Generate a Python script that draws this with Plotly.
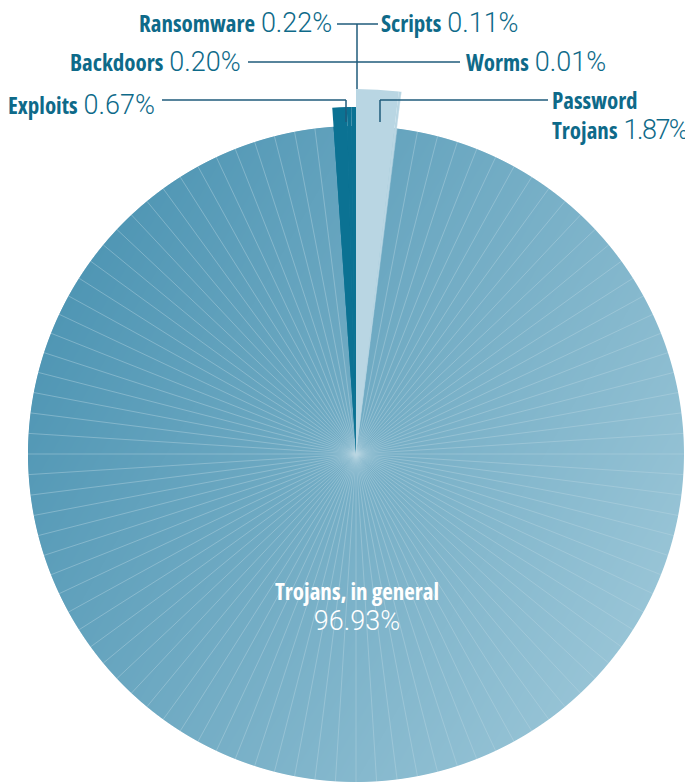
import base64
import struct
import zlib

import numpy as np
import plotly.graph_objects as go

# ---- data (clockwise from 12 o'clock) ----
categories = ["Password Trojans", "Scripts", "Worms", "Trojans, in general",
              "Exploits", "Backdoors", "Ransomware"]
shares = [1.87, 0.11, 0.01, 96.93, 0.67, 0.20, 0.22]

# ---- style ----
MAIN = "#74adc5"
slice_colors = ["#b9d6e3", "#b9d6e3", "#b9d6e3", MAIN,
                "#0b7293", "#0b7293", "#0b7293"]
slice_radius = [365, 365, 365, 328, 347, 347, 347]
opac1 = [1, 1, 1, 0.5, 1, 1, 1]
opac2 = [1, 1, 1, 0, 1, 1, 1]
GRAD_FROM = (80, 150, 180)    # upper-left shade of the big slice
GRAD_TO = (152, 196, 214)     # lower-right shade of the big slice

OFF = 8
W, H = 693 - OFF, 782 - OFF
CX, CY = 356 - OFF, 454 - OFF
RAD1 = 328
RAD2 = 366
HALF = 12.0

vals = np.array(shares, dtype=float)
widths = vals / vals.sum() * 360.0
starts = np.concatenate([[0.0], np.cumsum(widths)[:-1]])
centers = starts + widths / 2


# ---- shading texture under the (semi-transparent) big slice ----
def shade_png(radius):
    n = 2 * radius
    yy, xx = np.mgrid[0:n, 0:n] + 0.5
    dx, dy = xx - radius, yy - radius
    ang = np.radians(30)
    t = (dx * np.cos(ang) + dy * np.sin(ang)) / radius * 0.5 + 0.5
    t = np.clip(t, 0, 1)[..., None]
    c0, c1 = np.array(GRAD_FROM, float), np.array(GRAD_TO, float)
    target = c0 + (c1 - c0) * t
    mid = np.array([int(MAIN[i:i + 2], 16) for i in (1, 3, 5)], float)
    a = opac1[3]
    g = np.clip((target - a * mid) / (1 - a), 0, 255)
    alpha = np.clip(radius + 0.5 - np.hypot(dx, dy), 0, 1) * 255
    rgba = np.concatenate([g, alpha[..., None]], axis=2).astype(np.uint8)
    raw = b"".join(b"\x00" + rgba[i].tobytes() for i in range(n))

    def chunk(tag, data):
        c = struct.pack(">I", len(data)) + tag + data
        return c + struct.pack(">I", zlib.crc32(tag + data) & 0xffffffff)

    png = (b"\x89PNG\r\n\x1a\n"
           + chunk(b"IHDR", struct.pack(">IIBBBBB", n, n, 8, 6, 0, 0, 0))
           + chunk(b"IDAT", zlib.compress(raw, 9))
           + chunk(b"IEND", b""))
    return "data:image/png;base64," + base64.b64encode(png).decode()


fig = go.Figure()
for sp, op in [("polar", opac1), ("polar2", opac2)]:
    fig.add_trace(go.Barpolar(
        r=slice_radius, theta=centers, width=widths, subplot=sp,
        marker=dict(color=slice_colors, opacity=op, line=dict(width=0)),
        text=categories, hoverinfo="text", showlegend=False,
    ))

ang1 = dict(rotation=90, direction="clockwise", showline=False,
            showticklabels=False, ticks="", tickmode="linear", tick0=0, dtick=3.6,
            showgrid=True, gridcolor="rgba(255,255,255,0.42)", gridwidth=1)
ang2 = dict(ang1, showgrid=False)
rad = dict(visible=True, showline=False, showticklabels=False, ticks="",
           showgrid=False)

sb = np.sin(np.radians(HALF))
fig.update_layout(
    width=W, height=H, margin=dict(l=0, r=0, t=0, b=0),
    paper_bgcolor="white", plot_bgcolor="rgba(0,0,0,0)",
    polar=dict(
        domain=dict(x=[(CX - RAD1) / W, (CX + RAD1) / W],
                    y=[(H - CY - RAD1) / H, (H - CY + RAD1) / H]),
        bgcolor="rgba(0,0,0,0)",
        radialaxis=dict(range=[0, RAD1], **rad),
        angularaxis=ang1, bargap=0,
    ),
    polar2=dict(
        domain=dict(x=[(CX - RAD2 * sb) / W, (CX + RAD2 * sb) / W],
                    y=[(H - CY) / H, (H - CY + RAD2) / H]),
        sector=[90 - HALF, 90 + HALF],
        bgcolor="rgba(0,0,0,0)",
        radialaxis=dict(range=[0, RAD2], **rad),
        angularaxis=ang2, bargap=0,
    ),
    images=[dict(source=shade_png(RAD1), xref="paper", yref="paper",
                 x=(CX - RAD1) / W, y=1 - (CY - RAD1) / H,
                 sizex=2 * RAD1 / W, sizey=2 * RAD1 / H,
                 xanchor="left", yanchor="top", sizing="stretch",
                 layer="below")],
)

NAME_STYLE = "font-family:Open Sans;font-weight:700;font-stretch:condensed"
PCT_STYLE = "font-family:Roboto;font-weight:300;font-size:27px"
TXT = "#0e6a89"
LINE = "#1f5b7b"


def px(x, y):
    return (x - OFF) / W, 1 - (y - OFF) / H


def note(text, x, y, anchor, color=TXT, align="center"):
    xx, yy = px(x, y)
    fig.add_annotation(
        x=xx, y=yy, xref="paper", yref="paper", xanchor=anchor, yanchor="middle",
        showarrow=False, text=text, align=align,
        font=dict(family="Open Sans", size=23, color=color),
    )


def nm(s):
    return f"<span style='{NAME_STYLE}'>{s}</span>"


def pc(s, extra=""):
    return f"<span style='{PCT_STYLE}{extra}'>{s}</span>"


pct = {c: f"{v:.2f}%" for c, v in zip(categories, shares)}

note(nm("Ransomware") + " " + pc(pct["Ransomware"]), 334, 23, "right")
note(nm("Scripts") + " " + pc(pct["Scripts"]), 379, 23, "left")
note(nm("Backdoors") + " " + pc(pct["Backdoors"]), 243, 62, "right")
note(nm("Worms") + " " + pc(pct["Worms"]), 464, 62, "left")
note(nm("Exploits") + " " + pc(pct["Exploits"]), 157, 105, "right")
note(nm("Password") + "<br>" + nm("Trojans") + " "
     + pc(pct["Password Trojans"], ";letter-spacing:-1.5px"),
     690, 115, "right", align="left")
note(nm("Trojans, in general") + "<br>" + pc(pct["Trojans, in general"]),
     357, 606, "center", "white")

# leader lines
LEADERS = [
    (337, 24, 378, 24), (357, 24, 357, 89),
    (248, 62, 460, 62),
    (162, 100, 346, 100), (346, 100, 346, 122),
    (380, 100, 548, 100), (380, 100, 380, 122),
]
for x0, y0, x1, y1 in LEADERS:
    a, b = px(x0, y0)
    c, d = px(x1, y1)
    fig.add_shape(type="line", xref="paper", yref="paper", x0=a, y0=b, x1=c, y1=d,
                  line=dict(color=LINE, width=1.5), layer="above")

fig.write_html("out.html")
